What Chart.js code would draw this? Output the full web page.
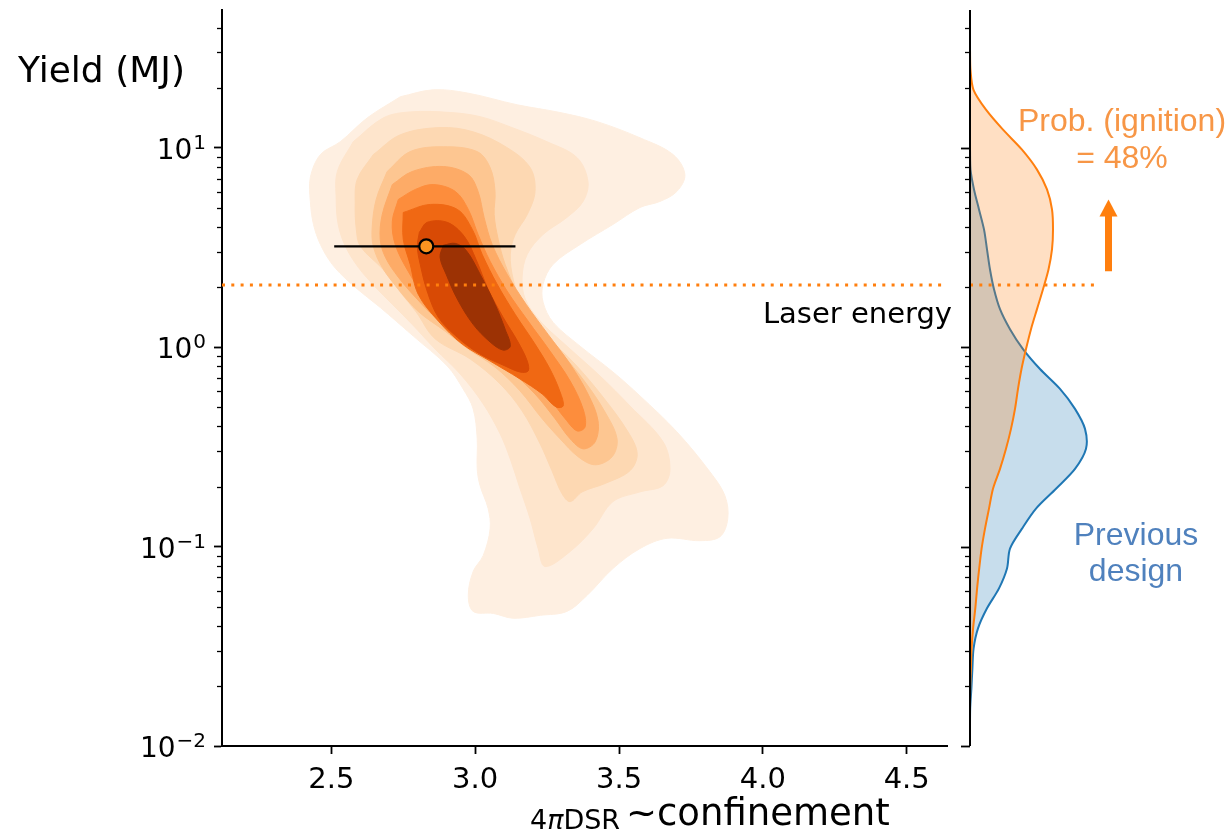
<!DOCTYPE html>
<html><head><meta charset="utf-8">
<script src="https://cdn.jsdelivr.net/npm/chart.js@4.4.1/dist/chart.umd.min.js"></script>
<style>
html,body{margin:0;padding:0;background:#fff;}
#wrap{position:relative;width:1230px;height:832px;overflow:hidden;background:#fff;}
#main{position:absolute;left:0;top:0;}
#side{position:absolute;left:900px;top:0;}
</style></head><body>
<div id="wrap">
<canvas id="main" width="960" height="832"></canvas>
<canvas id="side" width="330" height="832"></canvas>
</div>
<script>
// ---------- data ----------
const xTicks = [2.5, 3.0, 3.5, 4.0, 4.5];
const yTicks = [0.01, 0.1, 1, 10];
const yTickBase = '10';
const yTickExponents = ['\u22122', '\u22121', '0', '1'];
const minorMultipliers = [2, 3, 4, 5, 6, 7, 8, 9];
const xRange = [2.12, 4.64];
const yRange = [0.01, 48.98];

const laserEnergy = 2.05;           // MJ
const bestX = 2.83, bestXLow = 2.51, bestXHigh = 3.14, bestYield = 3.2;

const yLabelText = 'Yield (MJ)';
const laserLabel = 'Laser energy';
const probLines = ['Prob. (ignition)', '= 48%'];
const prevLines = ['Previous', 'design'];

const contourColors = ['#feefe1', '#fee5cc', '#fdd8b2', '#fdc691', '#fdab67', '#fd8d3c', '#f06813', '#d84a05', '#9c3204'];

const contour1 = [[2.740,18.0],[2.854,19.5],[2.972,18.8],[3.146,16.4],[3.295,15.0],[3.424,13.5],[3.573,11.2],[3.688,9.23],[3.729,7.33],[3.701,6.03],[3.642,5.37],[3.573,5.01],[3.479,4.12],[3.365,3.27],[3.271,2.60],[3.236,2.07],[3.236,1.68],[3.271,1.33],[3.365,1.01],[3.479,0.750],[3.573,0.569],[3.701,0.376],[3.816,0.237],[3.868,0.180],[3.878,0.138],[3.851,0.112],[3.781,0.107],[3.667,0.110],[3.573,0.0977],[3.479,0.0776],[3.389,0.0569],[3.319,0.0473],[3.226,0.0452],[3.132,0.0437],[3.063,0.0462],[2.993,0.0473],[2.976,0.0569],[2.993,0.0750],[3.028,0.0902],[3.052,0.123],[3.045,0.155],[3.017,0.202],[3.007,0.245],[3.007,0.347],[2.993,0.490],[2.958,0.617],[2.903,0.804],[2.785,1.135],[2.670,1.58],[2.625,1.78],[2.559,2.14],[2.503,2.60],[2.462,3.27],[2.438,4.12],[2.427,5.37],[2.427,7.08],[2.462,9.23],[2.531,10.7],[2.625,14.1]];
const contour2 = [[2.576,10.7],[2.681,14.1],[2.774,15.1],[2.913,15.0],[3.017,14.3],[3.122,12.7],[3.250,10.7],[3.354,8.91],[3.392,6.76],[3.375,5.37],[3.319,4.47],[3.236,3.67],[3.181,2.92],[3.163,2.24],[3.174,1.74],[3.226,1.35],[3.319,1.01],[3.434,0.716],[3.538,0.507],[3.653,0.335],[3.677,0.245],[3.653,0.202],[3.573,0.188],[3.479,0.168],[3.410,0.123],[3.330,0.0944],[3.243,0.0794],[3.219,0.0977],[3.191,0.138],[3.156,0.195],[3.122,0.275],[3.087,0.367],[3.028,0.519],[2.948,0.733],[2.861,0.977],[2.781,1.30],[2.712,1.64],[2.653,2.00],[2.594,2.51],[2.549,3.20],[2.524,4.12],[2.517,5.50],[2.521,7.59]];
const contour3 = [[2.646,9.23],[2.740,11.6],[2.878,12.6],[2.993,12.0],[3.111,10.0],[3.191,7.94],[3.208,6.03],[3.181,4.62],[3.139,3.67],[3.122,2.92],[3.132,2.19],[3.163,1.64],[3.243,1.16],[3.347,0.822],[3.444,0.562],[3.531,0.376],[3.563,0.292],[3.538,0.240],[3.451,0.207],[3.372,0.188],[3.330,0.168],[3.302,0.184],[3.267,0.240],[3.226,0.327],[3.163,0.479],[3.087,0.653],[2.983,0.871],[2.861,1.10],[2.795,1.50],[2.743,1.86],[2.680,2.45],[2.601,3.20],[2.587,3.89],[2.583,5.19],[2.590,6.92]];
const contour4 = [[2.694,7.59],[2.774,9.55],[2.889,10.1],[3.007,9.55],[3.052,7.94],[3.069,6.03],[3.066,4.62],[3.080,3.47],[3.104,2.60],[3.149,1.84],[3.215,1.33],[3.295,0.955],[3.382,0.668],[3.451,0.473],[3.493,0.347],[3.476,0.282],[3.417,0.257],[3.358,0.282],[3.295,0.347],[3.233,0.437],[3.156,0.603],[3.069,0.794],[2.976,0.977],[2.896,1.20],[2.802,1.51],[2.733,1.95],[2.677,2.51],[2.646,3.20],[2.642,3.98],[2.656,5.50]];
const contour5 = [[2.712,6.53],[2.781,7.59],[2.889,8.04],[2.976,7.33],[3.010,6.03],[3.031,4.47],[3.059,3.27],[3.111,2.32],[3.177,1.64],[3.253,1.16],[3.330,0.822],[3.392,0.582],[3.427,0.427],[3.417,0.335],[3.375,0.309],[3.330,0.347],[3.278,0.437],[3.208,0.582],[3.122,0.759],[3.024,0.944],[2.941,1.15],[2.861,1.41],[2.792,1.78],[2.733,2.24],[2.688,2.82],[2.670,3.47],[2.677,4.62]];
const contour6 = [[2.733,5.50],[2.792,6.17],[2.854,6.53],[2.931,6.03],[2.976,4.90],[3.010,3.67],[3.052,2.69],[3.111,1.91],[3.184,1.35],[3.260,0.955],[3.330,0.676],[3.375,0.490],[3.382,0.398],[3.354,0.380],[3.313,0.437],[3.253,0.562],[3.174,0.708],[3.076,0.871],[2.983,1.06],[2.903,1.35],[2.826,1.78],[2.767,2.40],[2.722,3.27],[2.712,4.27]];
const contour7 = [[2.750,4.73],[2.844,5.19],[2.938,4.90],[2.990,3.89],[3.024,2.92],[3.076,2.07],[3.139,1.46],[3.208,1.035],[3.260,0.776],[3.295,0.596],[3.306,0.507],[3.281,0.501],[3.233,0.582],[3.156,0.692],[3.052,0.851],[2.955,1.035],[2.872,1.35],[2.802,1.84],[2.774,2.60],[2.750,3.47]];
const contour8 = [[2.806,3.76],[2.833,4.22],[2.903,4.22],[2.962,3.59],[3.003,2.75],[3.045,1.95],[3.097,1.41],[3.149,1.06],[3.181,0.851],[3.184,0.759],[3.156,0.750],[3.104,0.804],[3.017,0.923],[2.938,1.12],[2.872,1.41],[2.833,1.91],[2.809,2.60],[2.799,3.20]];
const contour9 = [[2.889,3.24],[2.931,3.31],[2.969,3.05],[3.017,2.32],[3.069,1.64],[3.104,1.23],[3.122,1.01],[3.097,0.966],[3.052,1.06],[2.993,1.30],[2.938,1.74],[2.899,2.32],[2.878,2.82]];

// marginal densities along yield
const margYield = [30.9, 24.5, 19.5, 15.5, 12.3, 9.77, 7.76, 6.17, 4.90, 3.89, 3.09, 2.45, 1.95, 1.55, 1.23, 0.977, 0.776, 0.617, 0.490, 0.389, 0.309, 0.245, 0.195, 0.155, 0.123, 0.0977, 0.0776, 0.0617, 0.0490, 0.0389, 0.0309, 0.0245, 0.0195, 0.0155, 0.0123, 0.0100];
const margIgnition = [0, 0.005, 0.035, 0.16, 0.33, 0.52, 0.67, 0.77, 0.82, 0.83, 0.82, 0.785, 0.73, 0.67, 0.61, 0.56, 0.515, 0.48, 0.45, 0.41, 0.36, 0.30, 0.23, 0.19, 0.15, 0.116, 0.092, 0.071, 0.053, 0.031, 0.016, 0.009, 0.002, 0, 0, 0];
const margPrevious = [null, null, null, null, null, 0, 0.005, 0.04, 0.09, 0.14, 0.17, 0.20, 0.24, 0.30, 0.40, 0.53, 0.70, 0.90, 1.05, 1.15, 1.16, 1.05, 0.86, 0.66, 0.52, 0.40, 0.37, 0.29, 0.17, 0.08, 0.036, 0.024, 0.014, 0.002, 0, 0];
const densityRange = [0, 2.6];
const sideLaserSpan = [0, 1.24];
const arrowDensity = 1.385, arrowFrom = 2.4, arrowTo = 5.5;

// ---------- helpers ----------
const FONT = '"DejaVu Sans"';
const contours = [contour1, contour2, contour3, contour4, contour5, contour6, contour7, contour8, contour9];

function drawMinorTicks(chart, majorLen, minorLen) {
  const y = chart.scales.y, ctx = chart.ctx, left = chart.chartArea.left;
  ctx.save();
  ctx.strokeStyle = '#000';
  for (let k = -2; k <= 1; k++) {
    minorMultipliers.forEach(m => {
      const v = m * Math.pow(10, k);
      if (v > y.max) return;
      const p = Math.round(y.getPixelForValue(v)) + 0.5;
      ctx.lineWidth = 1.3;
      ctx.beginPath(); ctx.moveTo(left - minorLen, p); ctx.lineTo(left, p); ctx.stroke();
    });
  }
  if (majorLen) {
    yTicks.forEach(v => {
      const p = Math.round(y.getPixelForValue(v)) + 0.5;
      ctx.lineWidth = 1.8;
      ctx.beginPath(); ctx.moveTo(left - majorLen, p); ctx.lineTo(left, p); ctx.stroke();
    });
  }
  ctx.restore();
}
function noPad(s) { s.paddingTop = 0; s.paddingBottom = 0; s.paddingLeft = 0; s.paddingRight = 0; }

// ---------- main chart ----------
const mainDatasets = contours.map((c, i) => ({
  data: c.concat([c[0]]).map(p => ({x: p[0], y: p[1]})),
  fill: 'shape',
  backgroundColor: contourColors[i],
  borderColor: contourColors[i],
  borderWidth: 1,
  pointRadius: 0,
  tension: 0.35,
  order: 100 - i
}));
mainDatasets.push({
  data: [{x: xRange[0], y: laserEnergy}, {x: xRange[1], y: laserEnergy}],
  borderColor: '#ff7f0e', borderWidth: 3, borderDash: [3, 6.3], borderCapStyle: 'butt',
  pointRadius: 0, fill: false, order: 3
});
mainDatasets.push({
  data: [{x: bestXLow, y: bestYield}, {x: bestXHigh, y: bestYield}],
  borderColor: '#000', borderWidth: 2.2, pointRadius: 0, fill: false, order: 2
});
mainDatasets.push({
  data: [{x: bestX, y: bestYield}],
  showLine: false, pointRadius: 7, pointBackgroundColor: '#fa9420',
  pointBorderColor: '#000', pointBorderWidth: 2.2, order: 1
});

const mainText = {
  id: 'mainText',
  afterDraw(chart) {
    const ctx = chart.ctx, ys = chart.scales.y;
    drawMinorTicks(chart, 0, 5);
    ctx.save();
    ctx.fillStyle = '#000';
    ctx.textBaseline = 'alphabetic';
    // y tick labels: 10 with raised exponent
    yTicks.forEach((v, i) => {
      const p = ys.getPixelForValue(v);
      ctx.font = '20px ' + FONT;
      const ew = ctx.measureText(yTickExponents[i]).width;
      ctx.textAlign = 'right';
      ctx.fillText(yTickExponents[i], 206, p + 1);
      ctx.font = '28px ' + FONT;
      ctx.fillText(yTickBase, 206 - ew - 1, p + 11);
    });
    ctx.textAlign = 'left';
    ctx.font = '36px ' + FONT;
    ctx.fillText(yLabelText, 18, 82);
    ctx.font = '29px ' + FONT;
    ctx.textAlign = 'right';
    ctx.fillText(laserLabel, 952, 323);
    // x title: 4πDSR ~confinement
    ctx.textAlign = 'left';
    let x = 530;
    ctx.font = '27px ' + FONT; ctx.fillText('4', x, 829); x += ctx.measureText('4').width;
    ctx.font = 'italic 27px ' + FONT; ctx.fillText('\u03C0', x, 829); x += ctx.measureText('\u03C0').width;
    ctx.font = '27px ' + FONT; ctx.fillText('DSR', x, 829);
    ctx.font = '37px ' + FONT; ctx.fillText('~confinement', 626, 825);
    ctx.restore();
  }
};

new Chart(document.getElementById('main'), {
  type: 'line',
  data: {datasets: mainDatasets},
  options: {
    responsive: false, animation: false, events: [],
    layout: {padding: {left: 0, right: 13, top: 10, bottom: 0}},
    plugins: {legend: {display: false}, tooltip: {enabled: false}},
    scales: {
      x: {
        type: 'linear', min: xRange[0], max: xRange[1],
        afterBuildTicks: s => { s.ticks = xTicks.map(v => ({value: v})); },
        afterFit: s => { s.height = 86; noPad(s); },
        ticks: {callback: v => Number(v).toFixed(1), font: {family: 'DejaVu Sans', size: 29}, color: '#000', padding: 9, maxRotation: 0, autoSkip: false},
        grid: {drawOnChartArea: false, drawTicks: true, tickLength: 8, tickColor: '#000', tickWidth: 1.8},
        border: {display: true, color: '#000', width: 2}
      },
      y: {
        type: 'logarithmic', min: yRange[0], max: yRange[1],
        afterBuildTicks: s => { s.ticks = yTicks.map(v => ({value: v})); },
        afterFit: s => { s.width = 222; noPad(s); },
        ticks: {callback: () => '', autoSkip: false},
        grid: {drawOnChartArea: false, drawTicks: true, tickLength: 8, tickColor: '#000', tickWidth: 1.8},
        border: {display: true, color: '#000', width: 2}
      }
    }
  },
  plugins: [mainText]
});

// ---------- side (marginal) chart ----------
function margData(arr) {
  return margYield.map((y, i) => ({x: arr[i], y: y})).filter(p => p.x !== null);
}
const sideText = {
  id: 'sideText',
  afterDatasetsDraw(chart) {
    const ctx = chart.ctx, area = chart.chartArea;
    const ys = chart.scales.y, xs = chart.scales.x;
    ctx.save();
    ctx.strokeStyle = '#000'; ctx.lineWidth = 2;
    ctx.beginPath(); ctx.moveTo(area.left, ys.getPixelForValue(yRange[1])); ctx.lineTo(area.left, ys.getPixelForValue(yRange[0])); ctx.stroke();
    ctx.restore();
    drawMinorTicks(chart, 9, 5);
    ctx.save();
    // arrow
    const ax = xs.getPixelForValue(arrowDensity);
    const yTail = ys.getPixelForValue(arrowFrom), yTip = ys.getPixelForValue(arrowTo);
    ctx.fillStyle = '#ff7f0e';
    ctx.fillRect(ax - 3.5, yTip + 16, 7, yTail - yTip - 16);
    ctx.beginPath(); ctx.moveTo(ax, yTip); ctx.lineTo(ax + 9, yTip + 17); ctx.lineTo(ax - 9, yTip + 17); ctx.closePath(); ctx.fill();
    // texts
    ctx.textAlign = 'center'; ctx.textBaseline = 'alphabetic';
    ctx.font = '32px "Liberation Sans"';
    ctx.fillStyle = '#f79646';
    ctx.fillText(probLines[0], 222, 131);
    ctx.fillText(probLines[1], 222, 168);
    ctx.fillStyle = '#4f81bd';
    ctx.fillText(prevLines[0], 236, 545);
    ctx.fillText(prevLines[1], 236, 581);
    ctx.restore();
  }
};

new Chart(document.getElementById('side'), {
  type: 'line',
  data: {datasets: [
    {data: margData(margPrevious), fill: 'shape', backgroundColor: 'rgba(31,119,180,0.25)', borderColor: '#1f77b4', borderWidth: 2, pointRadius: 0, tension: 0.3, order: 3},
    {data: margData(margIgnition), fill: 'shape', backgroundColor: 'rgba(255,127,14,0.25)', borderColor: '#ff7f0e', borderWidth: 2, pointRadius: 0, tension: 0.3, order: 2},
    {data: [{x: sideLaserSpan[0], y: laserEnergy}, {x: sideLaserSpan[1], y: laserEnergy}], borderColor: '#ff7f0e', borderWidth: 3, borderDash: [3, 6.3], borderCapStyle: 'butt', pointRadius: 0, fill: false, order: 1}
  ]},
  options: {
    responsive: false, animation: false, events: [],
    layout: {padding: {left: 70, right: 0, top: 10, bottom: 86}},
    plugins: {legend: {display: false}, tooltip: {enabled: false}},
    scales: {
      x: {type: 'linear', display: false, min: densityRange[0], max: densityRange[1]},
      y: {type: 'logarithmic', display: false, min: yRange[0], max: yRange[1]}
    }
  },
  plugins: [sideText]
});
</script>
</body></html>
